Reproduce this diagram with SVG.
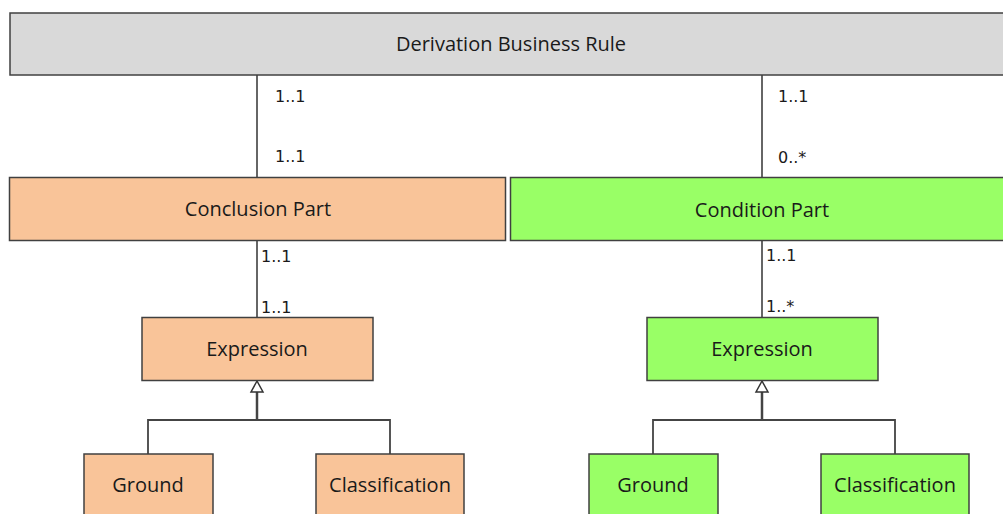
<svg xmlns="http://www.w3.org/2000/svg" width="1003" height="514" viewBox="0 0 1003 514">
<style>
.box{stroke:#404040;stroke-width:1.5}
.gray{fill:#D9D9D9}
.orange{fill:#F9C499}
.green{fill:#99FF66}
.t{font-family:"Open Sans","Noto Sans",sans-serif;font-size:20px;fill:#1a1a1a;text-anchor:middle}
.lbl{font-family:"DejaVu Sans",Verdana,sans-serif;font-size:16px;fill:#1a1a1a}
.assoc{stroke:#666;stroke-width:2;fill:none}
.gen{stroke:#444;stroke-width:1.8;fill:none}
.tri{fill:#fff;stroke:#333;stroke-width:1.5}
</style>
<g id="connectors">
<line class="assoc" x1="257" y1="75" x2="257" y2="177"/>
<line class="assoc" x1="762" y1="75" x2="762" y2="177"/>
<line class="assoc" x1="257" y1="240" x2="257" y2="317"/>
<line class="assoc" x1="762" y1="241" x2="762" y2="317"/>
<polyline class="gen" points="148,454 148,420 390,420 390,454"/>
<line class="gen" x1="257" y1="392" x2="257" y2="420" style="stroke-width:2.5"/>
<polygon class="tri" points="257,381 251,392 263,392"/>
<polyline class="gen" points="653,454 653,420 895,420 895,454"/>
<line class="gen" x1="762" y1="392" x2="762" y2="420" style="stroke-width:2.5"/>
<polygon class="tri" points="762,381 756,392 768,392"/>
<text class="lbl" x="275" y="102">1..1</text>
<text class="lbl" x="275" y="162">1..1</text>
<text class="lbl" x="778" y="102">1..1</text>
<text class="lbl" x="778" y="163">0..*</text>
<text class="lbl" x="261" y="262">1..1</text>
<text class="lbl" x="261" y="313">1..1</text>
<text class="lbl" x="766" y="261">1..1</text>
<text class="lbl" x="766" y="312">1..*</text>
</g>
<g id="derivation-business-rule">
<rect class="box gray" x="10" y="13" width="1000" height="62"/>
<text class="t" x="511" y="51">Derivation Business Rule</text>
</g>
<g id="conclusion-part">
<rect class="box orange" x="9.5" y="177.5" width="496" height="63"/>
<text class="t" x="258" y="216">Conclusion Part</text>
</g>
<g id="condition-part">
<rect class="box green" x="510.5" y="177.5" width="500" height="63"/>
<text class="t" x="762" y="217">Condition Part</text>
</g>
<g id="expression-left">
<rect class="box orange" x="142" y="317.5" width="231" height="63"/>
<text class="t" x="257" y="356">Expression</text>
</g>
<g id="expression-right">
<rect class="box green" x="647" y="317.5" width="231" height="63"/>
<text class="t" x="762" y="356">Expression</text>
</g>
<g id="ground-left">
<rect class="box orange" x="84" y="454" width="129" height="70"/>
<text class="t" x="148" y="492">Ground</text>
</g>
<g id="classification-left">
<rect class="box orange" x="316" y="454" width="148" height="70"/>
<text class="t" x="390" y="492">Classification</text>
</g>
<g id="ground-right">
<rect class="box green" x="589" y="454" width="129" height="70"/>
<text class="t" x="653" y="492">Ground</text>
</g>
<g id="classification-right">
<rect class="box green" x="821" y="454" width="148" height="70"/>
<text class="t" x="895" y="492">Classification</text>
</g>
</svg>
